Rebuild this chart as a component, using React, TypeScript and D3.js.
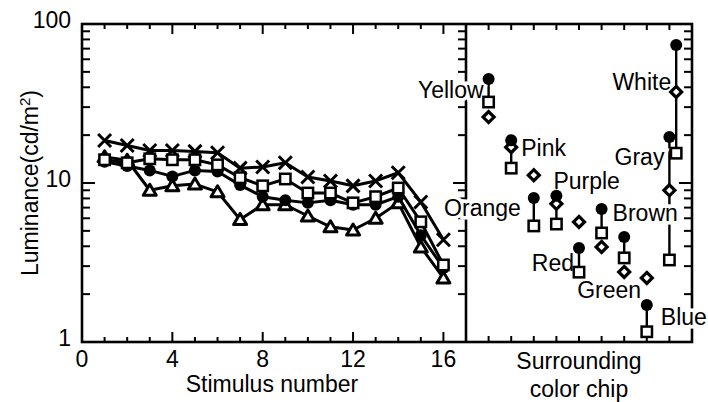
import React from 'react';
import * as d3 from 'd3';

// Left panel: luminance per stimulus, four conditions
const stimulusNumbers = [1, 2, 3, 4, 5, 6, 7, 8, 9, 10, 11, 12, 13, 14, 15, 16];
const crossValues = [18.5, 17.2, 16.0, 16.0, 15.8, 15.5, 12.4, 12.6, 13.4, 10.9, 10.3, 9.6, 10.3, 11.6, 7.6, 4.4];
const squareValues = [14.0, 13.4, 14.2, 14.0, 14.0, 13.0, 10.8, 9.6, 10.6, 8.65, 8.65, 7.5, 8.2, 9.3, 5.7, 3.05];
const circleValues = [13.6, 12.8, 12.0, 11.0, 12.0, 11.8, 9.7, 8.2, 7.8, 7.5, 7.8, 7.3, 7.3, 8.2, 4.7, 2.92];
const triangleValues = [14.6, 13.9, 9.0, 9.6, 9.85, 8.8, 5.9, 7.3, 7.3, 6.2, 5.3, 5.06, 6.0, 7.5, 3.96, 2.53];

// Right panel: surrounding color chips
const chipNames = ['Yellow', 'Pink', 'Orange', 'Purple', 'Red', 'Brown', 'Green', 'Blue', 'Gray', 'White'];
const chipSlots = [1, 2, 3, 4, 5, 6, 7, 8, 9, 9.3];
const chipCircle = [45.1, 18.6, 8.05, 8.3, 3.9, 6.86, 4.57, 1.71, 19.5, 73.8];
const chipSquare = [32.3, 12.4, 5.37, 5.52, 2.75, 4.85, 3.38, 1.16, 3.28, 15.4];
const chipDiamond = [26.0, 16.8, 11.2, 7.4, 5.69, 3.96, 2.76, 2.53, 9.0, 37.4];

const xTickLabels = [0, 4, 8, 12, 16];
const yTickLabels = [1, 10, 100];

// label placement relative to the filled circle of each chip
const labelPlace: { anchor: string; dx: number; dy: number }[] = [
  { anchor: 'end', dx: -5, dy: 19 },
  { anchor: 'start', dx: 10, dy: 16 },
  { anchor: 'end', dx: -13, dy: 18 },
  { anchor: 'start', dx: -3, dy: -7 },
  { anchor: 'end', dx: -5, dy: 23 },
  { anchor: 'start', dx: 11, dy: 12 },
  { anchor: 'start', dx: -47, dy: 61 },
  { anchor: 'start', dx: 14, dy: 20 },
  { anchor: 'end', dx: -5, dy: 28 },
  { anchor: 'end', dx: -5, dy: 45 },
];

const W = 708;
const H = 402;
const top = 24;
const bottom = 342;
const left = 82;
const mid = 466;
const right = 692;

const font = '"Liberation Sans", Arial, Helvetica, sans-serif';
const fs = 23;

const xL = d3.scaleLinear().domain([0, 17]).range([left, mid]);
const xR = d3.scaleLinear().domain([0, 10]).range([mid, right]);
const y = d3.scaleLog().domain([1, 100]).range([bottom, top]);

const logTicks = y.ticks(); // 1..9, 10..90, 100

const Cross = ({ cx, cy }: { cx: number; cy: number }) => {
  const s = 6.5;
  return (
    <path
      d={`M${cx - s},${cy - s}L${cx + s},${cy + s}M${cx - s},${cy + s}L${cx + s},${cy - s}`}
      stroke="#000"
      strokeWidth={3}
    />
  );
};

const Square = ({ cx, cy }: { cx: number; cy: number }) => (
  <rect x={cx - 5.2} y={cy - 5.2} width={10.4} height={10.4} fill="#fff" stroke="#000" strokeWidth={2.5} />
);

const Dot = ({ cx, cy }: { cx: number; cy: number }) => <circle cx={cx} cy={cy} r={6} fill="#000" />;

const Triangle = ({ cx, cy }: { cx: number; cy: number }) => (
  <path
    d={`M${cx},${cy - 6}L${cx + 6.5},${cy + 5}L${cx - 6.5},${cy + 5}Z`}
    fill="#fff"
    stroke="#000"
    strokeWidth={3}
    strokeLinejoin="round"
  />
);

const Diamond = ({ cx, cy }: { cx: number; cy: number }) => (
  <path
    d={`M${cx},${cy - 5.5}L${cx + 5.5},${cy}L${cx},${cy + 5.5}L${cx - 5.5},${cy}Z`}
    fill="#fff"
    stroke="#000"
    strokeWidth={3.2}
  />
);

const App = () => {
  const line = d3
    .line<number>()
    .x((_, i) => xL(stimulusNumbers[i]))
    .y((d) => y(d));

  const series = [
    { values: crossValues, Mark: Cross },
    { values: triangleValues, Mark: Triangle },
    { values: circleValues, Mark: Dot },
    { values: squareValues, Mark: Square },
  ];

  const leftTicks = d3.range(0, 17);
  const rightTicks = d3.range(1, 10);

  return (
    <svg width={W} height={H} style={{ position: 'absolute', left: 0, top: 0, background: '#fff' }}>
      {/* log ticks on left axis, divider (left side) and right axis */}
      {logTicks.map((t) => {
        const major = Math.abs(Math.log10(t) % 1) < 1e-9;
        const len = major ? 13 : 8;
        return (
          <g key={'yt' + t} stroke="#000" strokeWidth={2}>
            <line x1={left} x2={left + len} y1={y(t)} y2={y(t)} />
            <line x1={mid} x2={mid - len} y1={y(t)} y2={y(t)} />
            <line x1={right} x2={right - len} y1={y(t)} y2={y(t)} />
          </g>
        );
      })}
      {/* x ticks */}
      {leftTicks.map((t) => {
        const len = t % 4 === 0 ? 10 : 5;
        return (
          <g key={'xt' + t} stroke="#000" strokeWidth={2}>
            <line x1={xL(t)} x2={xL(t)} y1={bottom} y2={bottom - len} />
            <line x1={xL(t)} x2={xL(t)} y1={top} y2={top + len} />
          </g>
        );
      })}
      {rightTicks.map((t) => (
        <g key={'rt' + t} stroke="#000" strokeWidth={2}>
          <line x1={xR(t)} x2={xR(t)} y1={bottom} y2={bottom - 6} />
          <line x1={xR(t)} x2={xR(t)} y1={top} y2={top + 6} />
        </g>
      ))}

      {/* frame */}
      <rect x={left} y={top} width={right - left} height={bottom - top} fill="none" stroke="#000" strokeWidth={2.6} />
      <line x1={mid} x2={mid} y1={top} y2={bottom} stroke="#000" strokeWidth={2.6} />

      {/* tick labels */}
      {yTickLabels.map((t) => (
        <text key={'yl' + t} x={71} y={y(t) + 4} textAnchor="end" fontFamily={font} fontSize={fs}>
          {t}
        </text>
      ))}
      {xTickLabels.map((t) => (
        <text key={'xl' + t} x={xL(t)} y={367} textAnchor="middle" fontFamily={font} fontSize={fs}>
          {t}
        </text>
      ))}

      {/* axis titles */}
      <text x={272} y={392} textAnchor="middle" fontFamily={font} fontSize={fs}>
        Stimulus number
      </text>
      <text x={579} y={369} textAnchor="middle" fontFamily={font} fontSize={fs}>
        Surrounding
      </text>
      <text x={579} y={397} textAnchor="middle" fontFamily={font} fontSize={fs}>
        color chip
      </text>
      <text
        transform={`translate(38,${(top + bottom) / 2}) rotate(-90)`}
        textAnchor="middle"
        fontFamily={font}
        fontSize={fs}
      >
        Luminance(cd/m<tspan dy={-8} fontSize={15}>2</tspan>
        <tspan dy={8}>)</tspan>
      </text>

      {/* left panel lines */}
      {series.map((s, k) => (
        <path key={'ln' + k} d={line(s.values) || ''} fill="none" stroke="#000" strokeWidth={3} strokeLinejoin="round" />
      ))}

      {/* right panel connectors */}
      {chipNames.map((n, i) => (
        <line
          key={'cn' + n}
          x1={xR(chipSlots[i])}
          x2={xR(chipSlots[i])}
          y1={y(chipCircle[i])}
          y2={y(chipSquare[i])}
          stroke="#000"
          strokeWidth={2.4}
        />
      ))}

      {/* chip labels with white halo */}
      {chipNames.map((n, i) => (
        <text
          key={'lb' + n}
          x={xR(chipSlots[i]) + labelPlace[i].dx}
          y={y(chipCircle[i]) + labelPlace[i].dy}
          textAnchor={labelPlace[i].anchor}
          fontFamily={font}
          fontSize={fs}
          stroke="#fff"
          strokeWidth={7}
          paintOrder="stroke"
          fill="#000"
        >
          {n}
        </text>
      ))}

      {/* left panel markers */}
      {series.map((s, k) =>
        s.values.map((v, i) => <s.Mark key={'m' + k + '-' + i} cx={xL(stimulusNumbers[i])} cy={y(v)} />)
      )}

      {/* right panel markers */}
      {chipNames.map((n, i) => (
        <g key={'ck' + n}>
          <Diamond cx={xR(chipSlots[i])} cy={y(chipDiamond[i])} />
          <Square cx={xR(chipSlots[i])} cy={y(chipSquare[i])} />
          <Dot cx={xR(chipSlots[i])} cy={y(chipCircle[i])} />
        </g>
      ))}
    </svg>
  );
};

export default App;
